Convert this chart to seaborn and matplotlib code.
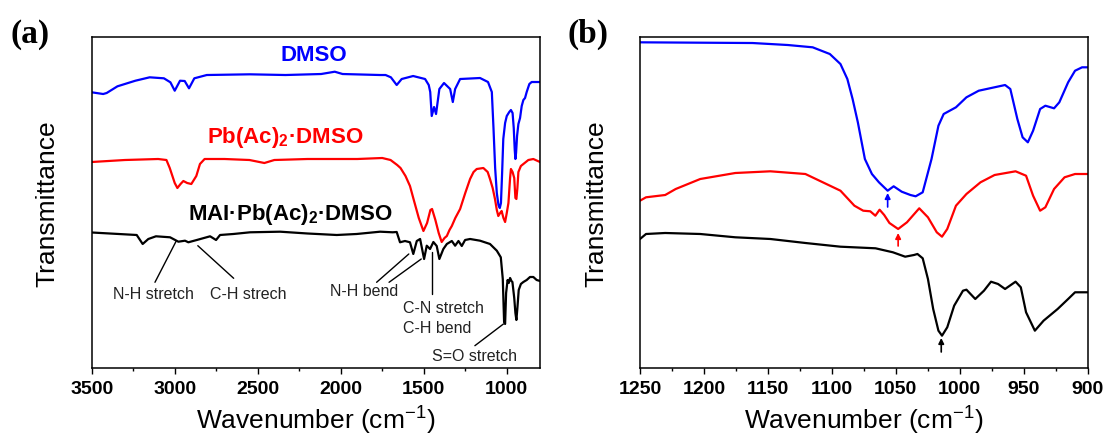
import matplotlib
matplotlib.use("Agg")
import matplotlib.pyplot as plt
import seaborn as sns
import pandas as pd

# ---------------- data (panel a: 3500-800 cm-1) ----------------
wn_a_dmso = [3500, 3431, 3410, 3345, 3237, 3151, 3065, 3026, 3000, 2968, 2940, 2914, 2882, 2807,
             2548, 2333, 2118, 2036, 1989, 1763, 1730, 1698, 1663, 1633, 1564, 1492, 1470, 1461,
             1452, 1438, 1426, 1406, 1378, 1341, 1325, 1311, 1281, 1161, 1113, 1090, 1080, 1070,
             1060, 1050, 1042, 1035, 1028, 1021, 1010, 1000, 985, 975, 965, 958, 952, 948, 944,
             938, 930, 920, 910, 900, 890, 880, 864, 850, 830, 800]
t_a_dmso = [275.7, 274, 275, 281.7, 287.3, 290.7, 289.7, 285.7, 277.3, 287.3, 287, 279.7, 289.7, 293,
            293.7, 293, 294, 296.3, 294, 293, 293, 290.7, 283, 289, 292, 289, 283, 276,
            252, 261, 254, 279, 285, 279, 266, 279, 289, 290, 286, 276, 240, 200,
            175, 163, 160, 165, 195, 229, 245, 252, 256, 258, 255, 240, 218, 209, 215,
            232, 244, 250, 262, 268, 270, 276, 284, 286, 286, 286]

wn_a_pb = [3500, 3300, 3100, 3050, 3030, 3000, 2984, 2965, 2948, 2925, 2900, 2870, 2848, 2820,
           2700, 2550, 2460, 2400, 2200, 2000, 1900, 1750, 1700, 1660, 1640, 1610, 1583, 1560,
           1530, 1502, 1480, 1460, 1450, 1430, 1410, 1392, 1375, 1361, 1345, 1331, 1310, 1281,
           1250, 1221, 1200, 1181, 1141, 1115, 1101, 1085, 1071, 1060, 1051, 1040, 1031, 1020,
           1010, 1000, 990, 980, 975, 965, 955, 948, 942, 936, 930, 915, 900, 870, 840, 800]
t_a_pb = [206, 208, 209, 208, 200, 185, 180, 184, 187, 185, 184, 192, 204, 209,
          209, 208, 205, 208, 209, 209, 209, 210, 208, 203, 200, 192, 182, 168,
          150, 137, 145, 158, 159, 148, 135, 126, 130, 132, 138, 142, 150, 159,
          175, 189, 196, 199, 200, 196, 189, 180, 169, 158, 152, 155, 157, 150,
          146, 155, 165, 190, 199, 196, 190, 170, 169, 180, 196, 202, 204, 208, 209, 206]

wn_a_mai = [3500, 3229, 3193, 3159, 3113, 3028, 2978, 2938, 2918, 2867, 2787, 2751, 2727, 2647,
            2546, 2365, 2200, 2024, 1904, 1763, 1687, 1663, 1643, 1613, 1583, 1563, 1542, 1522,
            1498, 1482, 1462, 1442, 1422, 1406, 1382, 1361, 1331, 1311, 1291, 1271, 1251, 1221,
            1161, 1101, 1060, 1036, 1024, 1016, 1010, 1004, 995, 988, 980, 972, 966, 955, 948,
            942, 936, 928, 915, 900, 880, 860, 840, 820, 800]
t_a_mai = [135.5, 133, 124, 129, 131.7, 130.7, 126.3, 127.3, 125.7, 128, 131.7, 128, 133, 134,
           135.7, 136.3, 134.5, 133, 134, 136.3, 135.7, 136, 125.7, 127, 125.7, 114, 127, 129,
           109, 122.3, 119, 126, 122, 109, 119, 124, 127, 122.3, 127, 122, 128, 129,
           127.3, 124, 117.3, 110.7, 89, 45.7, 44, 75, 88, 85, 90, 87, 86, 70, 55,
           48, 60, 78, 84, 86, 88, 91, 91, 88, 87]

# ---------------- data (panel b: 1250-900 cm-1) ----------------
wn_b_dmso = [1250, 1162, 1134.4, 1115, 1101.6, 1093.3, 1087.9, 1083.8, 1079.7, 1074.2, 1068.7, 1063.2,
             1056.4, 1051.7, 1045.4, 1038.6, 1034.5, 1029, 1022.1, 1016.7, 1012.6, 1003, 994.8, 985.2,
             964.6, 960.5, 955, 950.9, 946.8, 942.7, 937.2, 933.1, 926.3, 922.2, 915.3, 909.9, 904.4, 900]
t_b_dmso = [325.7, 325, 323, 320.7, 314, 304, 289, 269, 245.7, 209, 194, 185.7,
            177.3, 181.7, 176.3, 173, 171.7, 175.7, 209, 242.3, 254, 260.7, 270.7, 277.3,
            283, 279, 249, 230.7, 225.7, 237.3, 259, 262.3, 259.7, 265.7, 285.7, 297.3, 300.7, 300.7]

wn_b_pb = [1250, 1245.3, 1230.3, 1222.1, 1202.9, 1175.5, 1148.1, 1120.7, 1104.3, 1093.3, 1082.4, 1075.5,
           1070, 1066, 1062.7, 1059.1, 1055, 1048.2, 1041.3, 1031.7, 1024.9, 1018, 1013.9, 1009.8,
           1003, 994.8, 983.8, 972.8, 956.4, 948.2, 942.7, 937.2, 933.1, 926.3, 918.1, 909.9, 900]
t_b_pb = [167.3, 170.7, 173, 179, 189, 195, 196.7, 194, 184, 177.3, 162.3, 157.3,
          156.7, 152.3, 158.3, 153, 145, 139, 145.7, 159.7, 150.7, 135.7, 131.3, 139,
          162.3, 174, 185.7, 193, 196.7, 192.3, 172.3, 157.3, 160.7, 179, 190.7, 194, 194]

wn_b_mai = [1250, 1245.3, 1230.3, 1202.9, 1175.5, 1148.1, 1120.7, 1093.3, 1065.9, 1052.3, 1042.7, 1035.8,
            1033.1, 1029, 1024.9, 1020.8, 1016.7, 1013.9, 1009.8, 1004.4, 997.5, 994.8, 987.9, 981.1,
            975.6, 970.1, 964.6, 956.4, 952.3, 948.2, 941.3, 934.5, 923.5, 915.3, 909.9, 900]
t_b_mai = [129, 134, 135, 134, 130.7, 129, 125, 121.3, 119.7, 115.7, 111.3, 113,
           114, 109.7, 89, 59, 37.3, 32.3, 40.7, 62.3, 77.3, 78.3, 69, 77.3,
           86.3, 84, 79, 86.3, 80.7, 55.7, 37.3, 47.3, 59, 69, 75.7, 75.7]

samples = ["DMSO", "Pb(Ac)2·DMSO", "MAI·Pb(Ac)2·DMSO"]
colors = {"DMSO": "#0000ff", "Pb(Ac)2·DMSO": "#ff0000", "MAI·Pb(Ac)2·DMSO": "#000000"}

ticks_a = [3500, 3000, 2500, 2000, 1500, 1000]
tick_labels_a = ["3500", "3000", "2500", "2000", "1500", "1000"]
ticks_b = [1250, 1200, 1150, 1100, 1050, 1000, 950, 900]
tick_labels_b = ["1250", "1200", "1150", "1100", "1050", "1000", "950", "900"]


def frame(series):
    rows = []
    for name, wn, t in series:
        rows.append(pd.DataFrame({"wn": wn, "T": t, "sample": name}))
    return pd.concat(rows, ignore_index=True)


df_a = frame([(samples[0], wn_a_dmso, t_a_dmso), (samples[1], wn_a_pb, t_a_pb),
              (samples[2], wn_a_mai, t_a_mai)])
df_b = frame([(samples[0], wn_b_dmso, t_b_dmso), (samples[1], wn_b_pb, t_b_pb),
              (samples[2], wn_b_mai, t_b_mai)])

sns.set_theme(style="ticks")
plt.rcParams["font.family"] = ["Liberation Sans", "DejaVu Sans"]
plt.rcParams["mathtext.fontset"] = "custom"
plt.rcParams["mathtext.rm"] = "Liberation Sans"
plt.rcParams["mathtext.bf"] = "Liberation Sans:bold"
plt.rcParams["mathtext.it"] = "Liberation Sans:italic"
for key in ("text.color", "axes.labelcolor", "xtick.color", "ytick.color", "axes.edgecolor"):
    plt.rcParams[key] = "black"

fig = plt.figure(figsize=(11.09, 4.39), dpi=100)
ax1 = fig.add_axes([0.0827, 0.1595, 0.4042, 0.7539])
ax2 = fig.add_axes([0.5771, 0.1595, 0.4037, 0.7539])

for ax, df in ((ax1, df_a), (ax2, df_b)):
    sns.lineplot(data=df, x="wn", y="T", hue="sample", palette=colors, estimator=None,
                 sort=False, legend=False, lw=1.6, ax=ax)
    ax.set_ylim(0, 331)
    ax.set_yticks([])
    ax.set_ylabel("Transmittance", fontsize=19, labelpad=23)
    ax.set_xlabel("Wavenumber (cm$^{-1}$)", fontsize=19, labelpad=5)
    for s in ax.spines.values():
        s.set_linewidth(1.1)
        s.set_color("black")
    ax.tick_params(axis="x", which="major", direction="out", length=4.5, width=1,
                   labelsize=14, pad=4, color="black", labelcolor="black")
    ax.tick_params(axis="x", which="minor", direction="out", length=2.5, width=1, color="black")

ax1.set_xlim(3500, 800)
ax1.set_xticks(ticks_a)
ax1.set_xticklabels(tick_labels_a, fontweight="bold")
ax1.set_xticks([3250, 2750, 2250, 1750, 1250], minor=True)

ax2.set_xlim(1250, 900)
ax2.set_xticks(ticks_b)
ax2.set_xticklabels(tick_labels_b, fontweight="bold")
ax2.set_xticks([1225, 1175, 1125, 1075, 1025, 975, 925], minor=True)

# curve labels (panel a)
ax1.text(2161, 314, "DMSO", color="#0000ff", fontsize=16, fontweight="bold", ha="center", va="center")
ax1.text(2333, 232, "Pb(Ac)$_\\mathbf{2}$·DMSO", color="#ff0000", fontsize=16, fontweight="bold",
         ha="center", va="center")
ax1.text(2301, 154, "MAI·Pb(Ac)$_\\mathbf{2}$·DMSO", color="black", fontsize=16, fontweight="bold",
         ha="center", va="center")

# band assignments (panel a)
lk = dict(color="black", lw=1.0)
ax1.plot([2990, 3119], [127.3, 85.7], **lk)
ax1.plot([2861, 2645], [122.3, 89.7], **lk)
ax1.plot([1590, 1784], [114, 85.7], **lk)
ax1.plot([1515, 1709], [109, 85.7], **lk)
ax1.plot([1450, 1450], [115.7, 74], **lk)
ax1.plot([1020, 1192], [44, 22.3], **lk)
fs = 11.5
tc = "#222222"
ax1.text(3130, 74.7, "N-H stretch", fontsize=fs, ha="center", va="center", color=tc)
ax1.text(2559, 74, "C-H strech", fontsize=fs, ha="center", va="center", color=tc)
ax1.text(1859, 77.3, "N-H bend", fontsize=fs, ha="center", va="center", color=tc)
ax1.text(1627, 60.7, "C-N stretch", fontsize=fs, ha="left", va="center", color=tc)
ax1.text(1627, 40.7, "C-H bend", fontsize=fs, ha="left", va="center", color=tc)
ax1.text(1196, 12.3, "S=O stretch", fontsize=fs, ha="center", va="center", color=tc)

# arrows (panel b)
for x, y0, y1, c in ((1056.4, 161, 175, "#0000ff"), (1048.2, 122, 135, "#ff0000"),
                     (1014.5, 16, 30, "black")):
    ax2.annotate("", xy=(x, y1), xytext=(x, y0),
                 arrowprops=dict(arrowstyle="-|>", color=c, lw=1.2, mutation_scale=8,
                                 shrinkA=0, shrinkB=0))

fig.text(30 / 1109, 1 - 34 / 439, "(a)", fontfamily="Liberation Serif", fontweight="bold",
         fontsize=24, ha="center", va="center", color="black")
fig.text(588 / 1109, 1 - 34 / 439, "(b)", fontfamily="Liberation Serif", fontweight="bold",
         fontsize=24, ha="center", va="center", color="black")

fig.savefig("out.png", dpi=100)
